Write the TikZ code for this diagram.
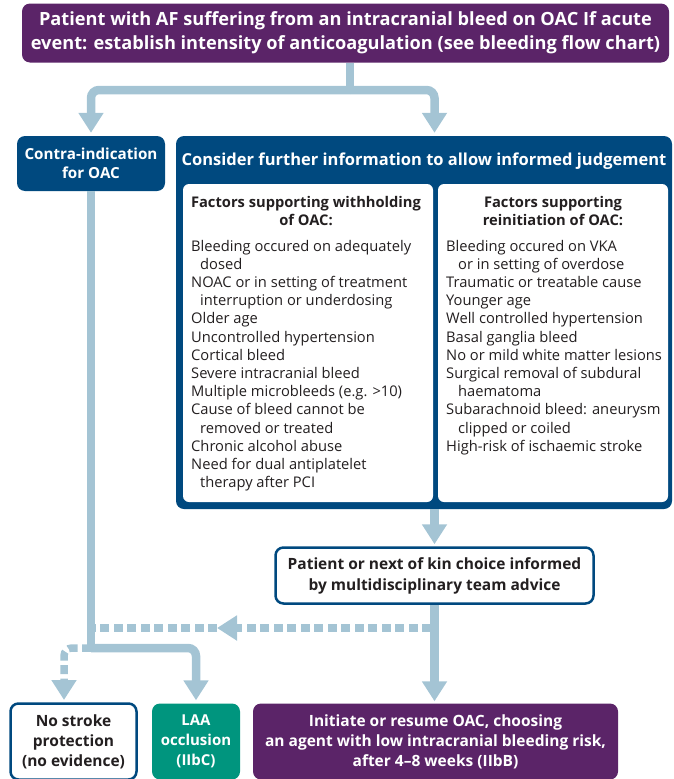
\documentclass[tikz,border=0pt]{standalone}
\usepackage{fontspec}
\setmainfont{Open Sans}
\usetikzlibrary{arrows.meta}
\definecolor{ppl}{HTML}{5B2468}
\definecolor{dblue}{HTML}{00497F}
\definecolor{teal}{HTML}{00957E}
\definecolor{lblue}{HTML}{A4C4D4}
\definecolor{txt}{HTML}{231F20}
\tikzset{
  box/.style={rectangle, rounded corners=8pt, inner sep=0pt, align=center},
  fillbox/.style={box, fill=#1, text=white, font=\bfseries\fontsize{15.2}{19.5}\selectfont},
  linebox/.style={box, fill=white, draw=dblue, line width=2.5pt, text=txt, font=\bfseries\fontsize{15.5}{20}\selectfont},
  inner/.style={rectangle, rounded corners=6pt, fill=white, inner sep=0pt},
  titletext/.style={inner sep=0pt, align=center, text=txt, font=\bfseries\fontsize{14.7}{18.5}\selectfont},
  listtext/.style={inner sep=0pt, align=left, text=txt, font=\fontsize{14.7}{18.2}\selectfont},
  conn/.style={line width=8.5pt, draw=lblue, rounded corners=8pt},
  tipped/.style={-{Triangle[width=24pt,length=20pt]}},
  dashconn/.style={conn, line width=7.5pt, dash pattern=on 9pt off 4.5pt},
}
\begin{document}
\begin{tikzpicture}[x=1pt,y=-1pt]
\useasboundingbox (0,0) rectangle (673,779);
% boxes
\node[fillbox=ppl, minimum width=647pt, minimum height=59pt, font=\bfseries\fontsize{18.2}{24}\selectfont] (top) at (345.5,33)
  {Patient with AF suffering from an intracranial bleed on OAC If acute\\event: establish intensity of anticoagulation (see bleeding flow chart)};
\node[fillbox=dblue, minimum width=148pt, minimum height=55pt] (contra) at (91,163.5) {Contra-indication\\for OAC};
\node[box, fill=dblue, minimum width=496pt, minimum height=373pt] (bigbox) at (424,322.5) {};
\node[inner sep=0pt, text=white, font=\bfseries\fontsize{16.5}{19}\selectfont] (consider) at (424,161) {Consider further information to allow informed judgement};
\node[inner, minimum width=250pt, minimum height=318pt] (leftbox) at (308,343) {};
\node[inner, minimum width=230pt, minimum height=318pt] (rightbox) at (553,343) {};
\node[titletext] (lefttitle) at (306,211) {Factors supporting withholding\\of OAC:};
\node[titletext] (righttitle) at (553,211) {Factors supporting\\reinitiation of OAC:};
\node[listtext, anchor=north west] (leftlist) at (191,239.8) {Bleeding occured on adequately\\\hspace*{9pt}dosed\\NOAC or in setting of treatment\\\hspace*{9pt}interruption or underdosing\\Older age\\Uncontrolled hypertension\\Cortical bleed\\Severe intracranial bleed\\Multiple microbleeds (e.g. >10)\\Cause of bleed cannot be\\\hspace*{9pt}removed or treated\\Chronic alcohol abuse\\Need for dual antiplatelet\\\hspace*{9pt}therapy after PCI};
\node[listtext, anchor=north west] (rightlist) at (446,239.8) {Bleeding occured on VKA\\\hspace*{12pt}or in setting of overdose\\Traumatic or treatable cause\\Younger age\\Well controlled hypertension\\Basal ganglia bleed\\No or mild white matter lesions\\Surgical removal of subdural\\\hspace*{12pt}haematoma\\Subarachnoid bleed: aneurysm\\\hspace*{12pt}clipped or coiled\\High-risk of ischaemic stroke};
\node[linebox, minimum width=318pt, minimum height=56pt, font=\bfseries\fontsize{15.5}{21}\selectfont] (patient) at (434.5,575.5) {Patient or next of kin choice informed\\by multidisciplinary team advice};
\node[linebox, minimum width=126pt, minimum height=76pt] (nostroke) at (73.5,741.5) {No stroke\\protection\\(no evidence)};
\node[fillbox=teal, minimum width=88pt, minimum height=76pt, font=\bfseries\fontsize{15}{20}\selectfont] (laa) at (196,741.5) {LAA\\occlusion\\(IIbC)};
\node[fillbox=ppl, minimum width=365pt, minimum height=76pt, font=\bfseries\fontsize{15.5}{20}\selectfont] (initiate) at (435.5,741.5) {Initiate or resume OAC, choosing\\an agent with low intracranial bleeding risk,\\after 4--8 weeks (IIbB)};
% connectors
\coordinate (j) at (350,90);
\coordinate (bt) at (bigbox.north -| patient);
\draw[conn] (top.south -| j) -- (j);
\draw[conn,tipped] (j) -| ([yshift=3pt]contra.north);
\draw[conn,tipped] (j) -| ([yshift=3pt]bt);
\draw[conn,tipped] (bigbox.south -| patient) -- ([yshift=2pt]patient.north);
\draw[conn,tipped] (patient.south) -- ([yshift=2pt]initiate.north -| patient);
\coordinate (jb) at (91,648);
\draw[conn] (contra.south) -- (jb);
\draw[conn,tipped] (jb) -| ([yshift=3pt]laa.north);
\coordinate (nsin) at (64,700);
\draw[dashconn,tipped] (jb) -| (nsin);
\coordinate (jd) at (431,628);
\coordinate (dtip) at (217,628);
\coordinate (dend) at (93,628);
\draw[dashconn,tipped] (jd) -- (dtip);
\draw[dashconn] (dtip) -- (dend);
\end{tikzpicture}
\end{document}
